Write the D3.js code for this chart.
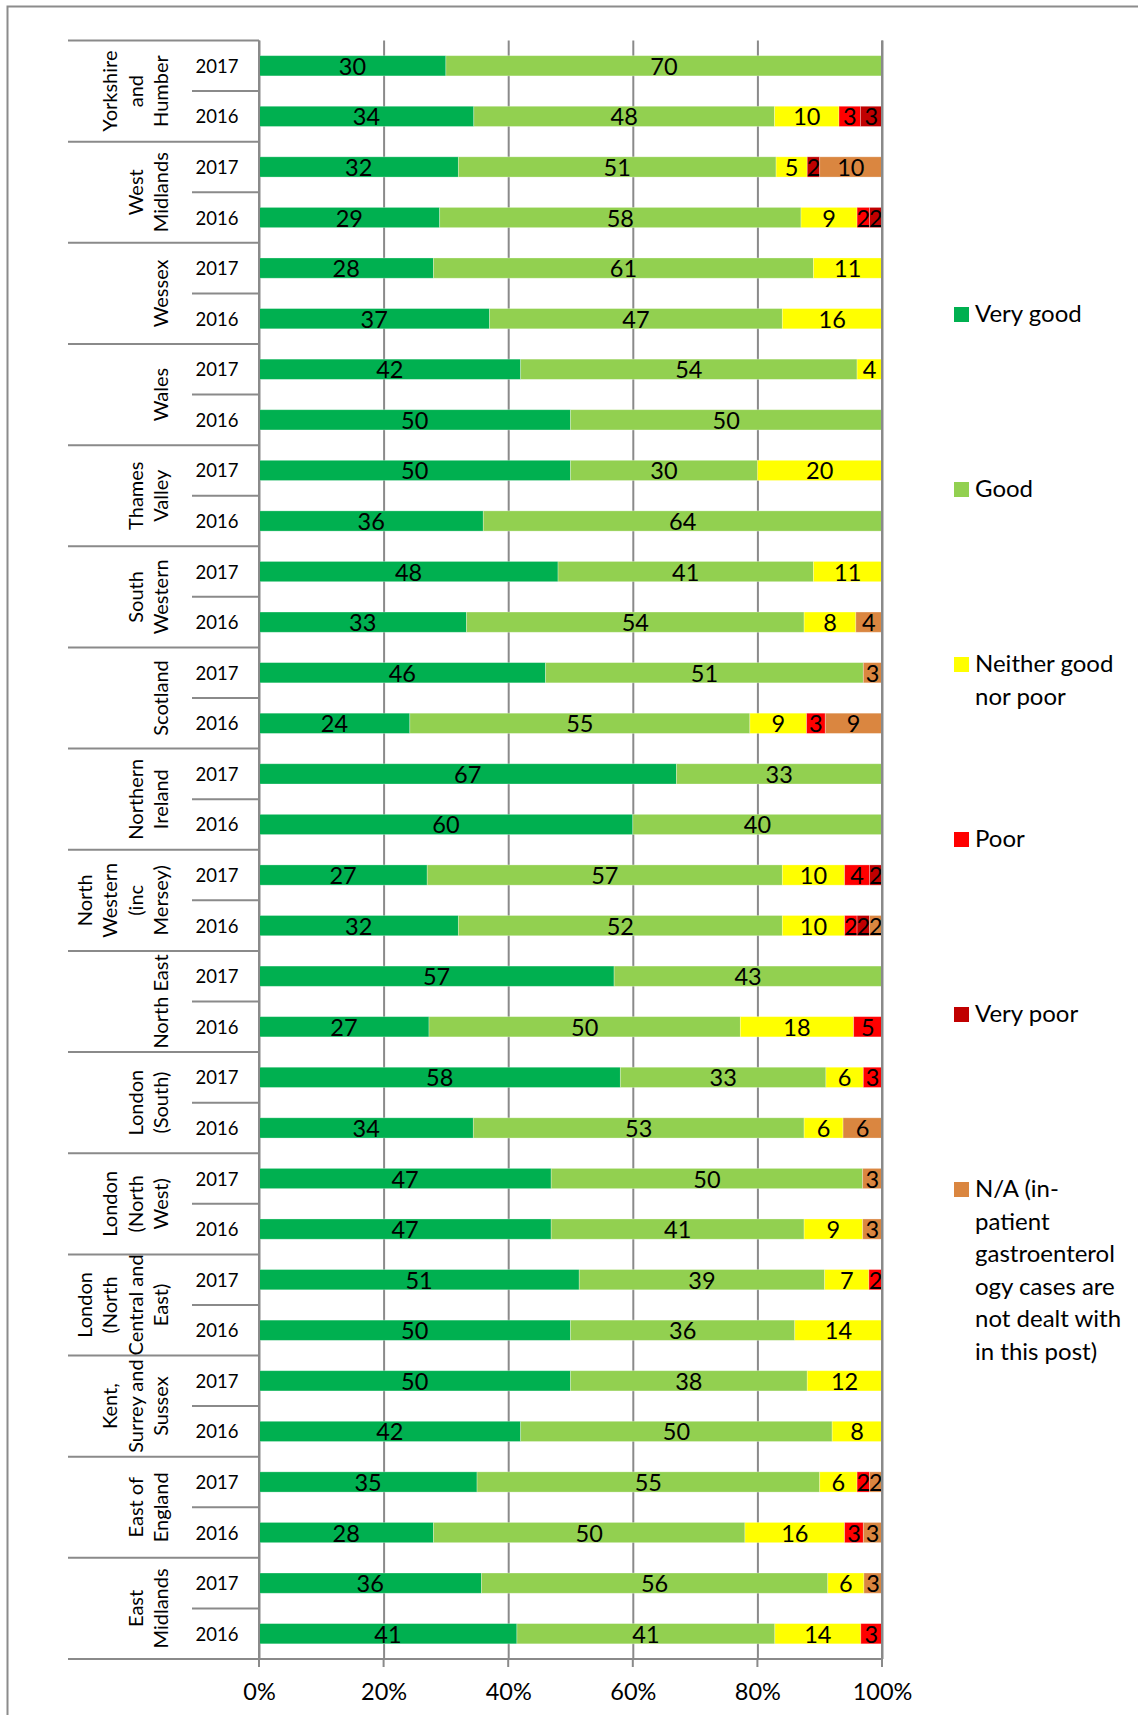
<!DOCTYPE html>
<html>
<head>
<meta charset="utf-8">
<script src="https://cdn.jsdelivr.net/npm/d3@7"></script>
<style>
  body { margin: 0; background: #fff; }
  text { font-family: Lato, "Open Sans", sans-serif; fill: #000; }
</style>
</head>
<body>
<div id="my_dataviz"></div>
<script>
// ---- data (rows top to bottom: each region 2017 then 2016) ----
var regions = [
  ["Yorkshire", "and", "Humber"],
  ["West", "Midlands"],
  ["Wessex"],
  ["Wales"],
  ["Thames", "Valley"],
  ["South", "Western"],
  ["Scotland"],
  ["Northern", "Ireland"],
  ["North", "Western", "(inc", "Mersey)"],
  ["North East"],
  ["London", "(South)"],
  ["London", "(North", "West)"],
  ["London", "(North", "Central and", "East)"],
  ["Kent,", "Surrey and", "Sussex"],
  ["East of", "England"],
  ["East", "Midlands"]
];
var years = ["2017", "2016"];

var veryGood = [30, 34.48, 32, 29, 28, 37, 42, 50, 50, 36, 48, 33.3, 46, 24.2, 67, 60,
                27, 32, 57, 27.3, 58, 34.4, 46.9, 46.9, 51.4, 50, 50, 42, 35, 28, 35.7, 41.4];
var good     = [70, 48.28, 51, 58, 61, 47, 54, 50, 30, 64, 41, 54.2, 51, 54.55, 33, 40,
                57, 52, 43, 50, 33, 53.1, 50, 40.6, 39.4, 36, 38, 50, 55, 50, 55.6, 41.4];
var neither  = [0, 10.34, 5, 9, 11, 16, 4, 0, 20, 0, 11, 8.3, 0, 9.1, 0, 0,
                10, 10, 0, 18.2, 6, 6.25, 0, 9.4, 7.1, 14, 12, 8, 6, 16, 5.8, 13.8];
var poor     = [0, 3.45, 0, 2, 0, 0, 0, 0, 0, 0, 0, 0, 0, 3.0, 0, 0,
                4, 2, 0, 4.55, 3, 0, 0, 0, 2.1, 0, 0, 0, 2, 3, 0, 3.4];
var veryPoor = [0, 3.45, 2, 2, 0, 0, 0, 0, 0, 0, 0, 0, 0, 0, 0, 0,
                2, 2, 0, 0, 0, 0, 0, 0, 0, 0, 0, 0, 0, 0, 0, 0];
var na       = [0, 0, 10, 0, 0, 0, 0, 0, 0, 0, 0, 4.2, 3, 9.1, 0, 0,
                0, 2, 0, 0, 0, 6.25, 3.1, 3.1, 0, 0, 0, 0, 2, 3, 2.9, 0];

var seriesNames = ["Very good", "Good", "Neither good nor poor", "Poor", "Very poor",
                   "N/A (in-patient gastroenterology cases are not dealt with in this post)"];
var legendLines = [["Very good"], ["Good"], ["Neither good", "nor poor"], ["Poor"], ["Very poor"],
                   ["N/A (in-", "patient", "gastroenterol", "ogy cases are", "not dealt with", "in this post)"]];
var colors = ["#00B050", "#92D050", "#FFFF00", "#FF0000", "#C00000", "#DA8640"];
var tickValues = [0, 0.2, 0.4, 0.6, 0.8, 1];

(function() {
// build rows table
var keys = ["vg", "g", "n", "p", "vp", "na"];
var cols = [veryGood, good, neither, poor, veryPoor, na];
var rows = [];
regions.forEach(function(r, i) {
  years.forEach(function(yr, j) {
    var k = i * 2 + j;
    var row = {id: k, region: i, year: yr};
    keys.forEach(function(key, c) { row[key] = cols[c][k]; });
    rows.push(row);
  });
});

// ---- layout ----
var W = 1138, H = 1715;
var plotLeft = 259, plotRight = 882, plotTop = 40.5, plotBottom = 1659;

var svg = d3.select("#my_dataviz")
  .append("svg")
    .attr("width", W)
    .attr("height", H);

// outer frame
svg.append("rect")
  .attr("x", 7.5).attr("y", 6.5)
  .attr("width", 1300).attr("height", 1900)
  .attr("fill", "none")
  .attr("stroke", "#8c8c8c")
  .attr("stroke-width", 2);

var x = d3.scaleLinear().domain([0, 1]).range([plotLeft, plotRight]);
var y = d3.scaleBand().domain(rows.map(function(d) { return d.id; }))
  .range([plotTop, plotBottom]).paddingInner(0.6).paddingOuter(0.3);
var yRow = d3.scaleBand().domain(rows.map(function(d) { return d.id; }))
  .range([plotTop, plotBottom]);
var yRegion = d3.scaleBand().domain(d3.range(regions.length)).range([plotTop, plotBottom]);

// gridlines + bottom axis
svg.append("g")
  .attr("transform", "translate(0," + plotBottom + ")")
  .call(d3.axisBottom(x).tickValues(tickValues).tickFormat(d3.format(".0%"))
        .tickSize(-(plotBottom - plotTop)).tickSizeOuter(0))
  .call(function(g) {
    g.select(".domain").remove();
    g.selectAll(".tick line").attr("stroke", "#8a8a8a").attr("stroke-width", 2);
    g.selectAll(".tick text").attr("dy", null).attr("y", 41)
      .style("font-size", "23.5px").style("font-family", "Lato, sans-serif");
  });

// tick marks below the axis
svg.append("g").selectAll("line")
  .data(tickValues)
  .enter().append("line")
    .attr("x1", function(d) { return x(d); }).attr("x2", function(d) { return x(d); })
    .attr("y1", plotBottom).attr("y2", plotBottom + 8)
    .attr("stroke", "#8a8a8a").attr("stroke-width", 2);

// bars
var stack = d3.stack().keys(keys).offset(d3.stackOffsetExpand);
var stacked = stack(rows);

var layers = svg.append("g")
  .selectAll("g")
  .data(stacked)
  .enter().append("g")
    .attr("fill", function(d, i) { return colors[i]; });

layers.selectAll("rect")
  .data(function(d) { return d.filter(function(s) { return s[1] - s[0] > 0; }); })
  .enter().append("rect")
    .attr("x", function(d) { return x(d[0]); })
    .attr("y", function(d) { return y(d.data.id); })
    .attr("width", function(d) { return x(d[1]) - x(d[0]); })
    .attr("height", y.bandwidth())
    .attr("stroke", "#ffffff")
    .attr("stroke-opacity", 0.35)
    .attr("stroke-width", 0.8);

// right (100%) gridline drawn over bar ends
svg.append("line")
  .attr("x1", x(1)).attr("x2", x(1))
  .attr("y1", plotTop).attr("y2", plotBottom + 8)
  .attr("stroke", "#8a8a8a").attr("stroke-width", 2);

// data labels
layers.each(function(layer) {
  var key = layer.key;
  d3.select(this).selectAll("text")
    .data(layer.filter(function(s) { return s.data[key] > 0; }))
    .enter().append("text")
      .attr("x", function(d) { return (x(d[0]) + x(d[1])) / 2; })
      .attr("y", function(d) { return y(d.data.id) + y.bandwidth() / 2 + 9; })
      .attr("text-anchor", "middle")
      .style("font-size", "23.5px")
      .style("fill", "#000")
      .text(function(d) { return d3.format(".0f")(d.data[key]); });
});

// left axis line and category structure
var axisColor = "#8a8a8a";
svg.append("line")
  .attr("x1", plotLeft).attr("x2", plotLeft).attr("y1", plotTop).attr("y2", plotBottom + 8)
  .attr("stroke", axisColor).attr("stroke-width", 2);

// region separator lines
svg.append("g").selectAll("line")
  .data(d3.range(regions.length + 1))
  .enter().append("line")
    .attr("x1", 68).attr("x2", plotLeft)
    .attr("y1", function(i) { return i < regions.length ? yRegion(i) : plotBottom; })
    .attr("y2", function(i) { return i < regions.length ? yRegion(i) : plotBottom; })
    .attr("stroke", axisColor).attr("stroke-width", 2);

// bottom axis line
svg.append("line")
  .attr("x1", plotLeft).attr("x2", plotRight)
  .attr("y1", plotBottom).attr("y2", plotBottom)
  .attr("stroke", axisColor).attr("stroke-width", 2);

// year separator lines
svg.append("g").selectAll("line")
  .data(rows.filter(function(d) { return d.year === "2016"; }))
  .enter().append("line")
    .attr("x1", 192).attr("x2", plotLeft)
    .attr("y1", function(d) { return yRow(d.id); })
    .attr("y2", function(d) { return yRow(d.id); })
    .attr("stroke", axisColor).attr("stroke-width", 2);

// year labels
svg.append("g").selectAll("text")
  .data(rows)
  .enter().append("text")
    .attr("x", 217)
    .attr("y", function(d) { return yRow(d.id) + yRow.bandwidth() / 2 + 7; })
    .attr("text-anchor", "middle")
    .style("font-size", "18.5px")
    .text(function(d) { return d.year; });

// region labels (rotated)
var regionG = svg.append("g").selectAll("text")
  .data(regions)
  .enter().append("text")
    .attr("transform", function(d, i) {
      return "translate(0," + (yRegion(i) + yRegion.bandwidth() / 2) + ") rotate(-90)";
    })
    .attr("text-anchor", "middle")
    .style("font-size", "20px");

regionG.selectAll("tspan")
  .data(function(d) { return d.map(function(t, j) { return {t: t, j: j, n: d.length}; }); })
  .enter().append("tspan")
    .attr("x", 0)
    .attr("y", function(d) { return 168 - (d.n - 1 - d.j) * 25.5; })
    .text(function(d) { return d.t; });

// legend
var legend = svg.append("g").selectAll("g")
  .data(seriesNames)
  .enter().append("g")
    .attr("transform", function(d, i) { return "translate(954," + (322 + i * 175) + ")"; });

legend.append("rect")
  .attr("x", 0).attr("y", -15)
  .attr("width", 15).attr("height", 15)
  .attr("fill", function(d, i) { return colors[i]; });

legend.append("text")
  .style("font-size", "24px")
  .selectAll("tspan")
  .data(function(d, i) { return legendLines[i]; })
  .enter().append("tspan")
    .attr("x", 21)
    .attr("y", function(d, j) { return j * 32.5; })
    .text(function(d) { return d; });
})();
</script>
</body>
</html>
